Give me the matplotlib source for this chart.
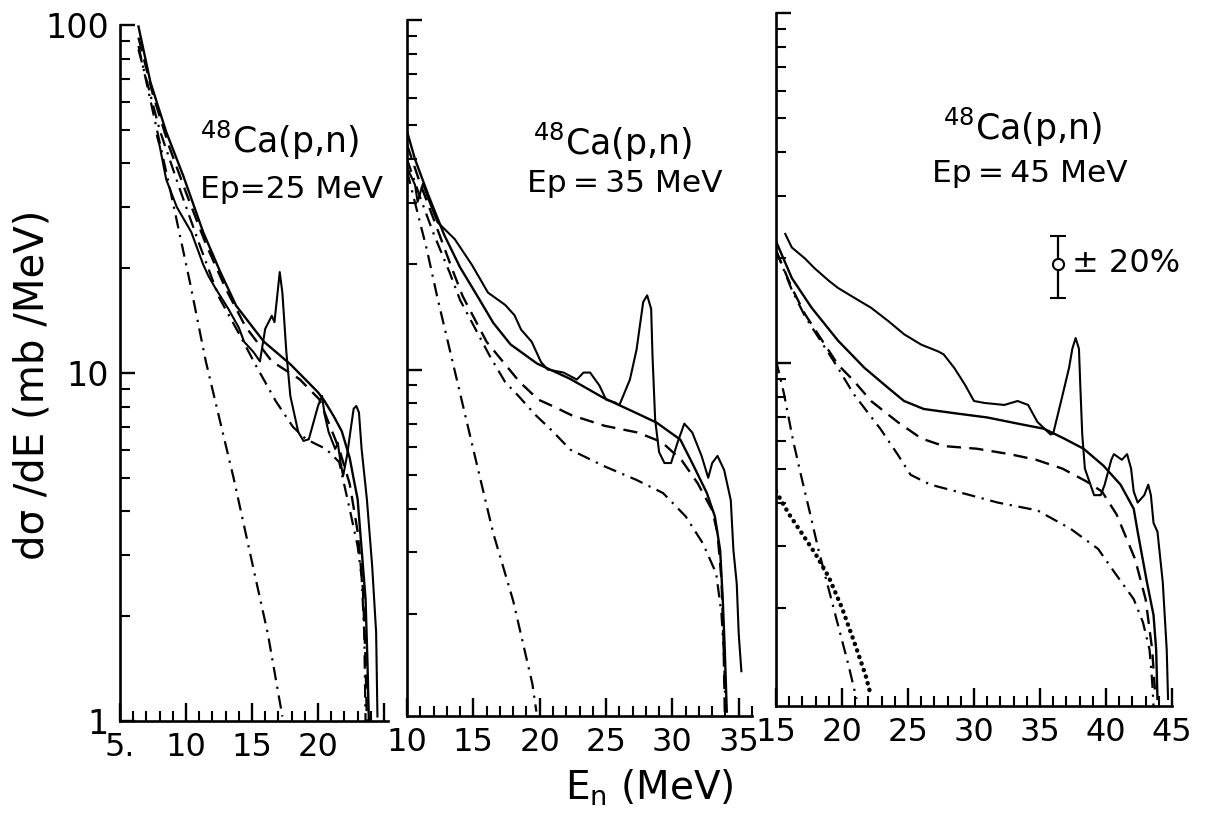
import matplotlib
matplotlib.use("Agg")
import matplotlib.pyplot as plt
from matplotlib.ticker import (FixedLocator, FixedFormatter, LogLocator,
                               NullFormatter, MultipleLocator)

plt.rcParams['font.family'] = ['DejaVu Sans']
plt.rcParams['mathtext.fontset'] = 'dejavusans'

W, H = 1215, 817

# ---------------- Ep = 25 MeV ----------------
p25_exp_x = [7.8, 8.0, 8.5, 9.3, 10.4, 11.3, 11.7, 12.2, 13.2, 13.5, 14.0, 14.4, 15.1, 15.6,
             16.0, 16.5, 16.7, 17.1, 17.3, 17.6, 17.9, 18.5, 18.9, 19.3, 20.0, 20.3, 20.5,
             20.8, 21.3, 21.5, 21.7, 21.9, 22.2, 22.5, 22.7, 22.9, 23.1, 23.3, 23.7, 24.1,
             24.4, 24.5]
p25_exp_y = [48, 45, 36, 30, 25.4, 20.5, 19.0, 17.6, 15.3, 14.6, 13.5, 12.3, 11.5, 10.8,
             13.4, 14.6, 14.0, 19.5, 17.0, 11.5, 8.6, 6.77, 6.38, 6.45, 8.04, 8.6, 7.6,
             6.77, 6.05, 6.3, 5.55, 5.06, 5.8, 7.0, 7.9, 8.04, 7.7, 6.05, 4.34, 2.79,
             1.80, 1.03]
p25_total_x = [6.4, 7.3, 8.5, 9.8, 11.3, 12.6, 13.8, 15.9, 17.9, 20.0, 20.5, 21.2, 21.8,
               22.4, 22.7, 23.0, 23.3, 23.6, 23.75, 23.85]
p25_total_y = [99, 68.6, 49.3, 36.8, 25.4, 19.5, 15.6, 12.3, 10.6, 8.8, 8.3, 7.5, 6.8,
               5.7, 4.96, 4.34, 3.12, 2.24, 1.44, 1.0]
p25_dash_x = [6.4, 7.5, 8.7, 10.0, 11.5, 13.0, 14.5, 16.5, 18.6, 20.1, 20.8, 21.6, 22.4,
              23.0, 23.4, 23.6, 23.7]
p25_dash_y = [92, 63, 45, 33, 23.5, 17.5, 13.6, 10.8, 9.6, 8.4, 7.2, 6.05, 4.8, 3.5, 2.4,
              1.5, 1.0]
p25_dashdot_x = [6.4, 8.0, 9.5, 11.0, 12.5, 14.1, 15.3, 16.8, 18.1, 19.1, 20.6, 21.6, 22.4,
                 23.0, 23.3, 23.5, 23.6]
p25_dashdot_y = [85, 50, 34, 23.5, 16.5, 12.8, 10.5, 8.3, 7.0, 6.45, 6.05, 5.55, 4.06,
                 3.18, 2.6, 1.8, 1.0]
p25_evap_x = [6.4, 9.0, 10.3, 11.5, 12.8, 13.6, 15.1, 16.2, 17.3]
p25_evap_y = [87, 31, 18.2, 10.8, 6.7, 5.0, 2.75, 1.78, 1.03]

# ---------------- Ep = 35 MeV ----------------
p35_exp_x = [10.05, 10.6, 10.8, 11.2, 11.6, 12.3, 13.6, 14.9, 16.1, 17.4, 18.1, 18.6, 19.4,
             20.1, 20.6, 21.8, 22.8, 23.3, 23.8, 24.5, 25.0, 25.7, 26.0, 26.8, 27.3, 27.8,
             28.1, 28.4, 28.5, 28.7, 29.0, 29.4, 29.9, 30.4, 30.9, 31.5, 32.2, 32.7, 33.0,
             33.4, 33.9, 34.4, 34.6, 34.85, 35.0, 35.2]
p35_exp_y = [37.5, 33.8, 30.2, 34.0, 30.8, 26.4, 23.6, 19.9, 16.6, 15.3, 14.3, 13.0, 12.0,
             10.5, 10.0, 9.8, 9.36, 9.8, 9.8, 9.0, 8.2, 8.04, 7.9, 9.36, 11.4, 15.6,
             16.3, 14.9, 11.0, 7.2, 5.8, 5.4, 5.4, 6.2, 7.0, 6.6, 5.66, 4.9, 5.4,
             5.66, 5.16, 4.23, 3.04, 2.44, 1.75, 1.37]
p35_total_x = [10.0, 10.6, 11.6, 12.8, 14.0, 15.4, 16.5, 17.8, 19.8, 22.3, 24.8, 27.3, 28.8,
               30.6, 31.6, 32.6, 33.2, 33.6, 33.8, 33.95, 34.1]
p35_total_y = [48, 40, 31.6, 24.3, 19.6, 16.0, 13.6, 11.8, 10.4, 9.4, 8.3, 7.5, 7.05,
               6.3, 5.3, 4.43, 3.8, 3.04, 2.18, 1.57, 1.05]
p35_dash_x = [10.0, 11.0, 12.0, 13.4, 14.2, 16.0, 18.5, 19.9, 21.0, 22.4, 24.9, 27.4, 29.2,
              30.7, 31.9, 33.0, 33.4, 33.7, 33.85, 33.95]
p35_dash_y = [44, 34, 27, 19.4, 16.2, 12.0, 9.2, 8.2, 7.85, 7.4, 6.9, 6.6, 6.2, 5.5, 4.73,
              3.96, 3.4, 2.5, 1.7, 1.05]
p35_dashdot_x = [10.0, 11.0, 12.0, 13.2, 14.0, 16.2, 17.4, 18.4, 19.7, 20.9, 22.3, 24.8,
                 27.3, 29.3, 31.0, 32.3, 33.3, 33.7, 33.9, 34.0]
p35_dashdot_y = [40, 31, 24.5, 19.0, 15.8, 11.0, 9.2, 8.4, 7.4, 6.7, 5.9, 5.3, 4.83, 4.43,
                 3.8, 3.18, 2.61, 2.0, 1.5, 1.05]
p35_evap_x = [10.0, 11.5, 12.3, 13.8, 15.0, 16.5, 18.0, 19.45, 19.75]
p35_evap_y = [37, 22, 16, 9.2, 5.9, 3.4, 2.18, 1.26, 1.05]

# ---------------- Ep = 45 MeV ----------------
p45_exp_x = [15.7, 16.2, 17.2, 17.9, 19.0, 19.7, 20.9, 22.2, 23.5, 24.7, 26.0, 27.3, 27.7,
             28.5, 29.3, 30.0, 30.8, 32.3, 33.3, 34.1, 34.8, 35.8, 36.0, 36.6, 37.2, 37.45,
             37.7, 37.95, 38.05, 38.2, 38.4, 39.1, 39.6, 39.9, 40.4, 40.6, 41.2, 41.6, 41.9,
             42.1, 42.4, 42.9, 43.2, 43.4, 43.6, 43.9, 44.3, 44.6, 44.7]
p45_exp_y = [23.4, 21.4, 19.9, 18.7, 17.2, 16.4, 15.4, 14.4, 13.2, 12.1, 11.3, 10.8, 10.6,
             9.7, 8.7, 7.8, 7.7, 7.6, 7.8, 7.6, 6.8, 6.26, 6.3, 7.8, 9.7, 11.0,
             11.8, 11.0, 8.7, 6.26, 5.0, 4.2, 4.2, 4.5, 5.3, 5.5, 5.3, 5.5, 5.0,
             4.3, 4.0, 4.2, 4.5, 4.2, 3.5, 3.3, 2.37, 1.52, 1.1]
p45_total_x = [15.0, 16.2, 17.7, 19.7, 21.7, 23.5, 24.7, 26.2, 28.5, 31.0, 33.5, 35.3, 36.8,
               38.3, 39.8, 41.1, 42.1, 42.4, 43.1, 43.6, 43.8, 43.9]
p45_total_y = [22.3, 17.5, 14.4, 11.6, 9.7, 8.5, 7.8, 7.4, 7.2, 7.0, 6.7, 6.5, 6.1, 5.7,
               5.1, 4.5, 3.84, 3.3, 2.37, 1.91, 1.52, 1.1]
p45_dash_x = [15.0, 16.2, 17.2, 18.5, 19.7, 20.9, 22.2, 24.2, 26.0, 27.7, 30.2, 32.7, 34.7,
              36.7, 38.5, 39.7, 40.8, 42.2, 43.0, 43.5, 43.7]
p45_dash_y = [21.0, 16.4, 13.8, 11.6, 9.9, 8.9, 7.8, 6.8, 6.1, 5.8, 5.7, 5.5, 5.3, 5.0,
              4.6, 4.3, 3.7, 2.76, 2.12, 1.52, 1.17]
p45_dashdot_x = [15.0, 16.2, 17.2, 18.5, 19.4, 20.9, 22.9, 24.2, 25.2, 26.7, 28.7, 31.8,
                 34.8, 37.3, 39.4, 40.8, 42.1, 42.8, 43.3, 43.5, 43.6]
p45_dashdot_y = [21.0, 16.2, 13.6, 11.4, 10.1, 8.15, 6.5, 5.5, 4.8, 4.5, 4.3, 4.0, 3.8,
                 3.37, 2.95, 2.48, 2.12, 1.82, 1.52, 1.23, 1.05]
p45_evap_x = [15.0, 15.6, 16.3, 17.0, 17.6, 18.2, 19.5, 20.5, 21.1]
p45_evap_y = [10.2, 8.2, 6.0, 4.6, 3.7, 2.95, 1.91, 1.37, 1.1]
p45_dot_x = [15.0, 16.0, 17.0, 18.0, 19.0, 20.0, 21.0, 21.8, 22.2]
p45_dot_y = [4.3, 3.7, 3.25, 2.85, 2.45, 2.0, 1.57, 1.28, 1.12]

# +-20% scale marker
err_x, err_y, err_frac = 36.4, 19.2, 0.20

# tick labels
p25_xticks, p25_xlabels = [5, 10, 15, 20, 25], ['5.', '10', '15', '20', '']
p35_xticks, p35_xlabels = [10, 15, 20, 25, 30, 35], ['10', '15', '20', '25', '30', '35']
p45_xticks, p45_xlabels = [15, 20, 25, 30, 35, 40, 45], ['15', '20', '25', '30', '35', '40', '45']
y_ticks, y_labels = [1, 10, 100], ['1', '10', '100']

SOLID = dict(color='black', lw=1.7, ls='-')
HIST = dict(color='black', lw=1.5, ls='-')
DASH = dict(color='black', lw=1.7, ls=(0, (6, 3.5)))
DASHDOT = dict(color='black', lw=1.6, ls=(0, (6, 3, 1, 3)))
DOT = dict(color='black', lw=3.2, ls=(0, (0.05, 1.5)), dash_capstyle='round')

fig = plt.figure(figsize=(W / 100, H / 100), dpi=100)
fig.patch.set_facecolor('white')


def px_axes(left, right, top, bottom):
    return fig.add_axes([left / W, 1 - bottom / H, (right - left) / W, (bottom - top) / H])


def style_axes(ax, xlim, ymin, xticks, xlabels, show_y):
    ax.set_yscale('log')
    ax.set_xlim(*xlim)
    ax.set_ylim(ymin, 100)
    for s in ('top', 'right'):
        ax.spines[s].set_visible(False)
    for s in ('left', 'bottom'):
        ax.spines[s].set_linewidth(1.9)
    ax.xaxis.set_major_locator(FixedLocator(xticks))
    ax.xaxis.set_major_formatter(FixedFormatter(xlabels))
    ax.xaxis.set_minor_locator(MultipleLocator(1))
    ax.yaxis.set_major_locator(FixedLocator(y_ticks))
    ax.yaxis.set_minor_locator(LogLocator(base=10, subs=range(2, 10), numticks=20))
    ax.yaxis.set_minor_formatter(NullFormatter())
    if show_y:
        ax.yaxis.set_major_formatter(FixedFormatter(y_labels))
    else:
        ax.yaxis.set_major_formatter(NullFormatter())
    ax.tick_params(which='major', direction='in', width=1.7)
    ax.tick_params(which='minor', direction='in', length=7, width=1.5)
    ax.tick_params(axis='x', which='major', length=13, pad=8, labelsize=23)
    ax.tick_params(axis='y', which='major', length=11, pad=8, labelsize=24)
    ax.patch.set_visible(False)


ax1 = px_axes(120, 388, 25, 721)
style_axes(ax1, (5, 25.3), 1.0, p25_xticks, p25_xlabels, True)
ax1.plot(p25_exp_x, p25_exp_y, **HIST)
ax1.plot(p25_total_x, p25_total_y, **SOLID)
ax1.plot(p25_dash_x, p25_dash_y, **DASH)
ax1.plot(p25_dashdot_x, p25_dashdot_y, **DASHDOT)
ax1.plot(p25_evap_x, p25_evap_y, **DASHDOT)

ax2 = px_axes(407, 752, 20, 716)
style_axes(ax2, (10, 36), 1.02, p35_xticks, p35_xlabels, False)
ax2.plot(p35_exp_x, p35_exp_y, **HIST)
ax2.plot(p35_total_x, p35_total_y, **SOLID)
ax2.plot(p35_dash_x, p35_dash_y, **DASH)
ax2.plot(p35_dashdot_x, p35_dashdot_y, **DASHDOT)
ax2.plot(p35_evap_x, p35_evap_y, **DASHDOT)

ax3 = px_axes(776, 1172, 13, 706)
style_axes(ax3, (15, 45), 1.05, p45_xticks, p45_xlabels, False)
ax3.plot(p45_exp_x, p45_exp_y, **HIST)
ax3.plot(p45_total_x, p45_total_y, **SOLID)
ax3.plot(p45_dash_x, p45_dash_y, **DASH)
ax3.plot(p45_dashdot_x, p45_dashdot_y, **DASHDOT)
ax3.plot(p45_evap_x, p45_evap_y, **DASHDOT)
ax3.plot(p45_dot_x, p45_dot_y, **DOT)
ax3.errorbar([err_x], [err_y], yerr=[[err_y * err_frac], [err_y * err_frac]], fmt='o',
             ms=8, mfc='white', mec='black', mew=1.5, ecolor='black', elinewidth=1.6,
             capsize=6, capthick=1.6)


def ftext(x, y, s, **kw):
    fig.text(x / W, 1 - y / H, s, **kw)


# reaction / beam-energy annotations
ftext(200, 153, '$^{48}$Ca(p,n)', ha='left', va='baseline', fontsize=25)
ftext(200, 198, 'Ep=25 MeV', ha='left', va='baseline', fontsize=22.5)
ftext(533, 155, '$^{48}$Ca(p,n)', ha='left', va='baseline', fontsize=25)
ftext(527, 192, 'Ep\u2009=\u200935 MeV', ha='left', va='baseline', fontsize=22.5)
ftext(943, 140, '$^{48}$Ca(p,n)', ha='left', va='baseline', fontsize=25)
ftext(932, 182, 'Ep\u2009=\u200945 MeV', ha='left', va='baseline', fontsize=22.5)
ftext(1072, 263, '± 20%', ha='left', va='center', fontsize=23)

# axis titles
ftext(33, 385, 'dσ /dE (mb /MeV)', rotation=90, ha='center', va='center', fontsize=29)
ftext(649, 800, 'E$_{\\rm n}$ (MeV)', ha='center', va='baseline', fontsize=28)

fig.savefig('out.png', dpi=100, facecolor='white')
